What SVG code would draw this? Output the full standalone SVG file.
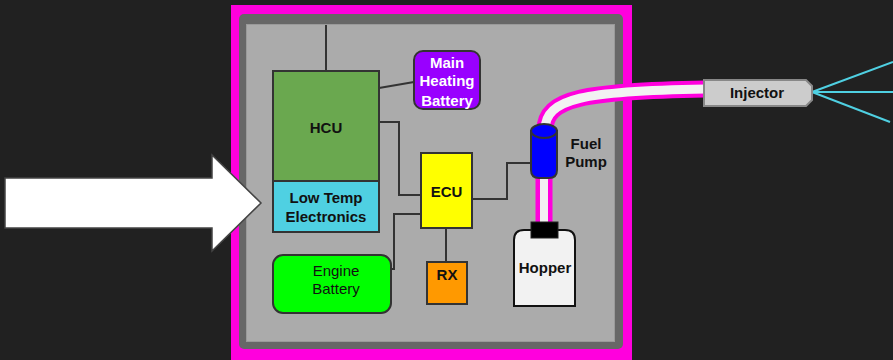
<svg xmlns="http://www.w3.org/2000/svg" width="893" height="360" viewBox="0 0 893 360">
<style>
.box{stroke:#333;stroke-width:2}
.wire{fill:none;stroke:#333;stroke-width:2}
.lbl{font-family:"Liberation Sans",Arial,sans-serif;font-size:15px;font-weight:bold;fill:#111;text-anchor:middle;dominant-baseline:central}
.reg{font-weight:normal}
.spray{stroke:#4fd0e2;stroke-width:2}
</style>
<rect x="0" y="0" width="893" height="360" fill="#212121"/>
<g id="enclosure">
<rect x="231" y="5" width="401" height="360" fill="#ff00dd"/>
<rect x="239" y="14" width="384" height="335" rx="5" fill="#676767"/>
<rect x="246.5" y="24.5" width="368" height="317" fill="#ababab" stroke="#9a9a9a" stroke-width="1"/>
</g>
<g id="connectors">
<path class="wire" d="M326,25 V71"/>
<path class="wire" d="M379,88 L414,82"/>
<path class="wire" d="M379,122 H399 V195 H421"/>
<path class="wire" d="M421,214 H394 V269 H391"/>
<path class="wire" d="M446,228 V262"/>
<path class="wire" d="M472,199 H507 V163 H531"/>
<path d="M544,178 V222" fill="none" stroke="#ff00dd" stroke-width="17"/>
<path d="M544,178 V222" fill="none" stroke="#f2f2f2" stroke-width="8"/>
<path d="M545,130 C545,98 585,91 705,89" fill="none" stroke="#ff00dd" stroke-width="17"/>
<path d="M545,130 C545,98 585,91 705,89" fill="none" stroke="#f2f2f2" stroke-width="9"/>
<line class="spray" x1="812" y1="92" x2="893" y2="62"/>
<line class="spray" x1="812" y1="92" x2="893" y2="92"/>
<line class="spray" x1="812" y1="92" x2="890" y2="122"/>
</g>
<g id="arrow">
<path d="M5,178 H212 V155 L261,203 L212,251 V228 H5 Z" fill="#fff" stroke="#444" stroke-width="1.5"/>
</g>
<g id="hcu">
<rect class="box" x="273" y="71" width="106" height="110" fill="#6aa84f"/>
<text class="lbl" x="326" y="127">HCU</text>
</g>
<g id="low-temp">
<rect class="box" x="273" y="181" width="106" height="51" fill="#4fd0e2"/>
<text class="lbl" x="326" y="197">Low Temp</text>
<text class="lbl" x="326" y="216">Electronics</text>
</g>
<g id="main-heating-battery">
<rect class="box" x="414" y="51" width="66" height="58" rx="9" fill="#9900ff"/>
<text class="lbl" x="447" y="62" fill="#fff" style="fill:#fff">Main</text>
<text class="lbl" x="447" y="80" style="fill:#fff">Heating</text>
<text class="lbl" x="447" y="100" style="fill:#fff">Battery</text>
</g>
<g id="ecu">
<rect class="box" x="421" y="153" width="51" height="75" fill="#ffff00"/>
<text class="lbl" x="446.5" y="191">ECU</text>
</g>
<g id="engine-battery">
<rect class="box" x="273" y="255" width="118" height="58" rx="10" fill="#00ff00"/>
<text class="lbl reg" x="336" y="270">Engine</text>
<text class="lbl reg" x="336" y="288">Battery</text>
</g>
<g id="rx">
<rect class="box" x="427" y="262" width="40" height="42" fill="#ff9900"/>
<text class="lbl" x="447" y="274">RX</text>
</g>
<g id="fuel-pump">
<path class="box" d="M531,131 V170 Q531,178 539,178 H549 Q557,178 557,170 V131 Z" fill="#0000ff"/>
<ellipse class="box" cx="544" cy="131" rx="13" ry="7" fill="#0000ff"/>
<text class="lbl" x="586" y="143">Fuel</text>
<text class="lbl" x="586" y="161">Pump</text>
</g>
<g id="hopper">
<path d="M514,306 V240 Q514,230 524,230 H565 Q575,230 575,240 V306 Z" fill="#f2f2f2" stroke="#111" stroke-width="2"/>
<rect x="531" y="222" width="27" height="16" fill="#000" stroke="#222" stroke-width="1"/>
<text class="lbl" x="545" y="267">Hopper</text>
</g>
<g id="injector">
<path d="M704,80 H806 L812,86 V100 L806,106 H704 Z" fill="#cccccc" stroke="#888" stroke-width="2"/>
<text class="lbl" x="757" y="92">Injector</text>
</g>
</svg>
